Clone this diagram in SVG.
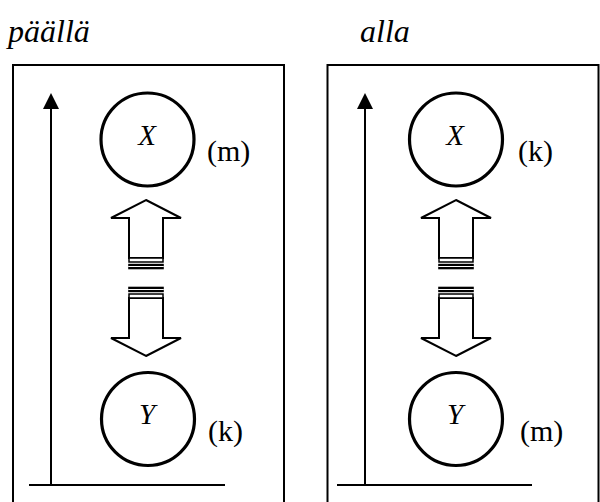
<svg xmlns="http://www.w3.org/2000/svg" width="600" height="502" viewBox="0 0 600 502">
<style>
.frame{fill:none;stroke:#000;stroke-width:2}
.axis{fill:none;stroke:#000;stroke-width:2}
.circ{fill:#fff;stroke:#000;stroke-width:3.2}
.arr{fill:#fff;stroke:#000;stroke-width:2;stroke-linejoin:miter}
.band{fill:#000}
.gap{stroke:#fff;stroke-width:1}
.box{fill:#fff;stroke:#000;stroke-width:1.5}
.title{font-family:"Liberation Serif","Times New Roman",serif;font-style:italic;font-size:32px;fill:#000}
.var{font-family:"Liberation Serif","Times New Roman",serif;font-style:italic;font-size:29px;fill:#000}
.lab{font-family:"Liberation Serif","Times New Roman",serif;font-size:30px;fill:#000}
</style>
<defs>
<g id="upArrow">
<polygon class="arr" points="0,0 35,18 17,18 17,58 -17,58 -17,18 -35,18"/>
<rect class="box" x="-17" y="58" width="34" height="4"/>
<rect class="band" x="-17.8" y="63.8" width="35.6" height="5.5"/>
<line class="gap" x1="-17.8" y1="66.5" x2="17.8" y2="66.5"/>
</g>
<g id="downArrow">
<polygon class="arr" points="0,156 35,138 17,138 17,98 -17,98 -17,138 -35,138"/>
<rect class="box" x="-17" y="94" width="34" height="4"/>
<rect class="band" x="-17.8" y="86.7" width="35.6" height="5.5"/>
<line class="gap" x1="-17.8" y1="89.5" x2="17.8" y2="89.5"/>
</g>
</defs>

<text class="title" x="8" y="42">päällä</text>
<text class="title" x="360" y="42">alla</text>

<g id="panel-left">
<rect class="frame" x="13" y="65" width="271" height="460"/>
</g>
<g id="panel-right">
<rect class="frame" x="327.5" y="65" width="271" height="460"/>
</g>

<g id="connectors">
<line class="axis" x1="51" y1="106" x2="51" y2="485"/>
<polygon points="51,93 43,109 59,109" fill="#000"/>
<line class="axis" x1="29" y1="485" x2="225" y2="485"/>
<line class="axis" x1="365" y1="106" x2="365" y2="485"/>
<polygon points="365,93 357,109 373,109" fill="#000"/>
<line class="axis" x1="337" y1="485" x2="532" y2="485"/>
<use href="#upArrow" x="146" y="200"/>
<use href="#downArrow" x="146" y="200"/>
<use href="#upArrow" x="456" y="200"/>
<use href="#downArrow" x="456" y="200"/>
</g>

<g id="node-left-X">
<circle class="circ" cx="147.5" cy="139.5" r="46.5"/>
<text class="var" x="147" y="145" text-anchor="middle">X</text>
<text class="lab" x="207" y="161">(m)</text>
</g>
<g id="node-left-Y">
<circle class="circ" cx="148" cy="419" r="46.5"/>
<text class="var" x="147" y="424" text-anchor="middle">Y</text>
<text class="lab" x="208" y="441">(k)</text>
</g>
<g id="node-right-X">
<circle class="circ" cx="456" cy="139.5" r="46.5"/>
<text class="var" x="455" y="145" text-anchor="middle">X</text>
<text class="lab" x="518" y="161">(k)</text>
</g>
<g id="node-right-Y">
<circle class="circ" cx="456" cy="419" r="46.5"/>
<text class="var" x="455" y="424" text-anchor="middle">Y</text>
<text class="lab" x="520" y="441">(m)</text>
</g>
</svg>
